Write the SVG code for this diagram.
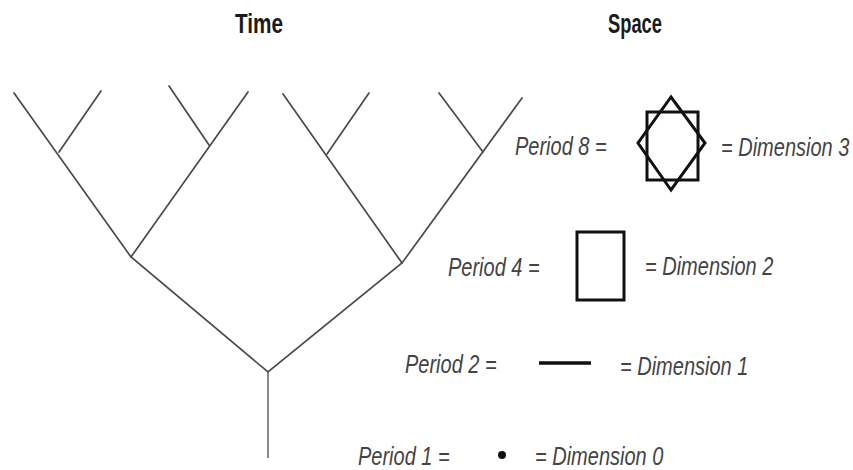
<svg xmlns="http://www.w3.org/2000/svg" width="853" height="470" viewBox="0 0 853 470">
<style>
.title{font-family:"Liberation Sans",Arial,sans-serif;font-size:21px;font-weight:bold;fill:#1a1a1a}
.lbl{font-family:"Liberation Sans",Arial,sans-serif;font-style:italic;font-size:20px;fill:#444}
.br{stroke:#4a4a4a;stroke-width:1.7;fill:none;stroke-linecap:round}
.shape{stroke:#111;stroke-width:3;fill:none}
</style>
<rect width="853" height="470" fill="#fff"/>
<g id="titles">
<text class="title" transform="translate(235,33) scale(1,1.3)" textLength="48" lengthAdjust="spacingAndGlyphs">Time</text>
<text class="title" transform="translate(608,33) scale(1,1.3)" textLength="54" lengthAdjust="spacingAndGlyphs">Space</text>
</g>
<g id="tree">
<line x1="268" y1="372" x2="268" y2="458" stroke="#8a8a8a" stroke-width="2"/>
<polyline class="br" points="14,93 131,257 268,372 402,263 522,98"/>
<polyline class="br" points="131,257 248,92"/>
<polyline class="br" points="402,263 283,94"/>
<line class="br" x1="59" y1="152" x2="101" y2="91"/>
<line class="br" x1="209" y1="145" x2="169" y2="86"/>
<line class="br" x1="327" y1="154" x2="369" y2="93"/>
<line class="br" x1="483" y1="152" x2="439" y2="93"/>
</g>
<g id="row8">
<text class="lbl" transform="translate(515,155) scale(1,1.3)">Period 8 =</text>
<rect class="shape" x="647" y="112" width="51" height="68"/>
<polygon class="shape" points="671,97 705,143 671,190 638,143"/>
<text class="lbl" transform="translate(721,156) scale(1,1.3)">= Dimension 3</text>
</g>
<g id="row4">
<text class="lbl" transform="translate(448,276) scale(1,1.3)">Period 4 =</text>
<rect class="shape" x="577" y="232" width="47" height="68"/>
<text class="lbl" transform="translate(645,275) scale(1,1.3)">= Dimension 2</text>
</g>
<g id="row2">
<text class="lbl" transform="translate(405,373) scale(1,1.3)">Period 2 =</text>
<line x1="539" y1="363" x2="591" y2="363" stroke="#111" stroke-width="3.5"/>
<text class="lbl" transform="translate(620,375) scale(1,1.3)">= Dimension 1</text>
</g>
<g id="row1">
<text class="lbl" transform="translate(358,465) scale(1,1.3)">Period 1 =</text>
<circle cx="502" cy="455" r="4" fill="#111"/>
<text class="lbl" transform="translate(535,465) scale(1,1.3)">= Dimension 0</text>
</g>
</svg>
